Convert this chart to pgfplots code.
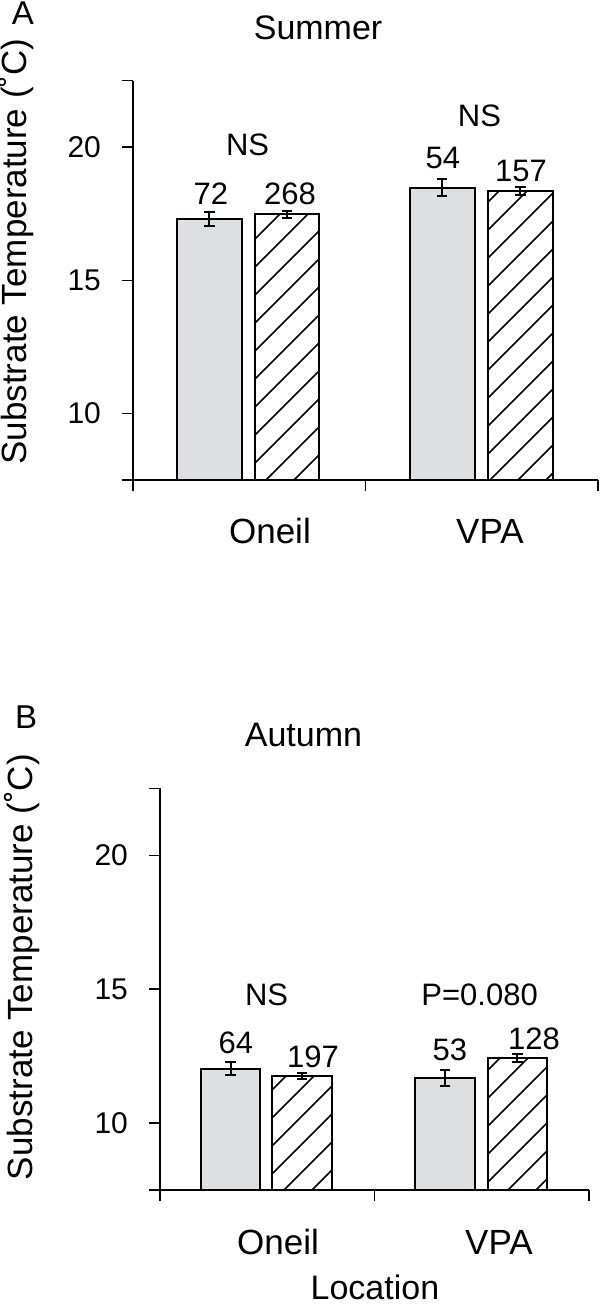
\documentclass[border=0pt]{standalone}
\usepackage{pgfplots}
\pgfplotsset{compat=1.18}
\usetikzlibrary{patterns.meta}
\usepackage{fontspec}
\setmainfont{Liberation Sans}

\definecolor{barfill}{RGB}{222,223,225}

\pgfplotsset{
  panel/.style={
    scale only axis,
    anchor=south west,
    axis lines=left,
    axis line style={-, line width=0.8pt},
    every tick/.style={black, line width=0.8pt},
    tick align=outside,
    major tick length=5.5pt,
    xmin=0, xmax=2, ymin=7.5, ymax=22.5,
    xtick={0,1,2}, xticklabels={,,},
    ytick={10,15,20},
    extra y ticks={7.5,22.5}, extra y tick labels={},
    hide obscured x ticks=false, hide obscured y ticks=false,
    /pgf/number format/assume math mode=true,
    yticklabel style={font=\fontsize{15}{18}\selectfont, xshift=-7pt},
    extra x tick style={major tick length=0pt,
      xticklabel style={anchor=base, yshift=-32pt, font=\fontsize{17.5}{21}\selectfont}},
    title style={anchor=base, font=\fontsize{17}{20}\selectfont},
    ylabel={Substrate Temperature (˚C)},
    ylabel style={anchor=base, font=\fontsize{17.5}{21}\selectfont},
    error bars/y dir=both, error bars/y explicit,
    error bars/error bar style={line width=1pt},
    error bars/error mark options={line width=1pt, mark size=2.6pt, rotate=90},
  },
  % bars are placed at their own x positions, categories span 0-1 and 1-2
  grey bar/.style={ybar, bar width=0.278, bar shift=0, draw=black, line width=1pt, fill=barfill},
  hatch bar/.style={ybar, bar width=0.278, bar shift=0, draw=black, line width=1pt,
    pattern={Lines[angle=45, distance=9.9pt, line width=0.8pt]}, pattern color=black},
}

\begin{document}
\begin{tikzpicture}[font=\fontsize{15.5}{18}\selectfont]
\useasboundingbox (0,0) rectangle (300pt,653pt);

% A: Summer
\begin{axis}[panel,
  at={(66.5pt,413pt)}, width=232.5pt, height=199.65pt,
  title=Summer, title style={at={(0.398,1.072)}},
  ylabel style={at={(-0.230,0.572)}},
  extra x ticks={0.589,1.535}, extra x tick labels={Oneil,VPA},
  extra description/.code={\node[anchor=base, font=\fontsize{16.5}{20}\selectfont] at (-0.237,1.1395) {A};},
]
\addplot[grey bar] coordinates {(0.329,17.29) +- (0,0.26) (1.330,18.48) +- (0,0.31)};
\addplot[hatch bar] coordinates {(0.663,17.48) +- (0,0.13) (1.666,18.35) +- (0,0.14)};
\node at (0.335,18.24) {72};
\node at (0.675,18.24) {268};
\node at (1.333,19.58) {54};
\node at (1.669,19.12) {157};
\node at (0.493,20.09) {NS};
\node at (1.49,21.19) {NS};
\end{axis}

% B: Autumn
\begin{axis}[panel,
  at={(80pt,58pt)}, width=214.5pt, height=200.8pt,
  title=Autumn, title style={at={(0.3345,1.074)}},
  ylabel style={at={(-0.298,0.555)}},
  xlabel=Location, xlabel style={at={(0.501,-0.272)}, anchor=base, inner sep=1pt, font=\fontsize{17}{20}\selectfont},
  extra x ticks={0.550,1.580}, extra x tick labels={Oneil,VPA},
  extra description/.code={\node[anchor=base, font=\fontsize{16.5}{20}\selectfont] at (-0.312,1.148) {B};},
]
\addplot[grey bar] coordinates {(0.329,12.03) +- (0,0.24) (1.330,11.68) +- (0,0.29)};
\addplot[hatch bar] coordinates {(0.663,11.76) +- (0,0.12) (1.666,12.43) +- (0,0.15)};
\node at (0.354,12.99) {64};
\node at (0.713,12.48) {197};
\node at (1.351,12.72) {53};
\node at (1.744,13.15) {128};
\node at (0.497,14.78) {NS};
\node at (1.49,14.78) {P=0.080};
\end{axis}
\end{tikzpicture}
\end{document}
